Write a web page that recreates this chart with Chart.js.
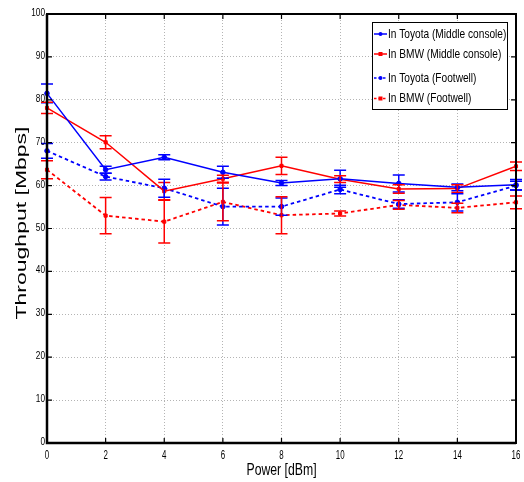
<!DOCTYPE html>
<html>
<head>
<meta charset="utf-8">
<title>Throughput vs power</title>
<script src="https://cdn.jsdelivr.net/npm/chart.js@4.4.1/dist/chart.umd.min.js"></script>
<style>
    html, body { margin: 0; padding: 0; background: #fff; }
    #wrap { width: 524px; height: 482px; }
</style>
</head>
<body>
<div id="wrap"><canvas id="chart" width="524" height="482"></canvas></div>
<script>
// values
var power = [0, 2, 4, 6, 8, 10, 12, 14, 16];
var xTicks = [0, 2, 4, 6, 8, 10, 12, 14, 16];
var yTicks = [0, 10, 20, 30, 40, 50, 60, 70, 80, 90, 100];

var toyotaMiddle = [81.5, 63.7, 66.6, 63.1, 60.6, 61.6, 60.5, 59.6, 60.2];
var toyotaMiddleErr = [2.2, 0.8, 0.6, 1.4, 0.6, 2.0, 2.0, 0.8, 1.2];
var bmwMiddle = [78.1, 70.1, 58.7, 61.6, 64.6, 61.5, 59.2, 59.3, 64.5];
var bmwMiddleErr = [1.3, 1.5, 2.0, 0.8, 2.0, 0.8, 1.0, 0.9, 1.0];
var toyotaFoot = [68.1, 62.1, 59.4, 55.1, 55.1, 59.1, 55.7, 56.1, 60.0];
var toyotaFootErr = [1.7, 0.8, 2.1, 4.3, 2.0, 1.0, 1.0, 2.0, 1.0];
var bmwFoot = [63.7, 53.0, 51.6, 56.2, 53.1, 53.5, 55.5, 54.8, 56.1];
var bmwFootErr = [2.1, 4.2, 5.0, 4.4, 4.3, 0.6, 1.0, 1.1, 1.5];

var seriesLabels = ["In Toyota (Middle console)", "In BMW (Middle console)", "In Toyota (Footwell)", "In BMW (Footwell)"];

var BLUE = "#0000ff";
var RED = "#ff0000";
var FONT = '"Liberation Sans", Arial, sans-serif';

var toPoints = function (ys) {
    return power.map(function (x, i) { return { x: x, y: ys[i] }; });
};

var makeSet = function (label, ys, errs, color, dashed, style) {
    return {
        label: label,
        data: toPoints(ys),
        errors: errs,
        borderColor: color,
        backgroundColor: color,
        borderWidth: dashed ? 1.8 : 1.5,
        borderDash: dashed ? [3.5, 3] : [],
        pointStyle: style,
        pointRadius: style === "rect" ? 2.2 : 2.3,
        pointBorderWidth: 1,
        pointBackgroundColor: color,
        pointBorderColor: color,
        tension: 0,
        clip: false
    };
};

// draw a string squeezed horizontally, like the scaled figure
var drawText = function (ctx, s, x, y, size, sx, align, base) {
    ctx.save();
    ctx.font = size + "px " + FONT;
    ctx.translate(x, y);
    ctx.scale(sx, 1);
    ctx.textAlign = align;
    ctx.textBaseline = base;
    ctx.fillStyle = "#000";
    ctx.fillText(s, 0, 0);
    ctx.restore();
};

var errorBars = {
    id: "errorBars",
    afterDatasetsDraw: function (chart) {
        var ctx = chart.ctx;
        var xs = chart.scales.x, ys = chart.scales.y;
        chart.data.datasets.forEach(function (ds) {
            ctx.save();
            ctx.strokeStyle = ds.borderColor;
            ctx.lineWidth = 1.5;
            ds.data.forEach(function (p, i) {
                var px = xs.getPixelForValue(p.x);
                var top = ys.getPixelForValue(p.y + ds.errors[i]);
                var bot = ys.getPixelForValue(p.y - ds.errors[i]);
                ctx.beginPath();
                ctx.moveTo(px, top); ctx.lineTo(px, bot);
                ctx.moveTo(px - 6, top); ctx.lineTo(px + 6, top);
                ctx.moveTo(px - 6, bot); ctx.lineTo(px + 6, bot);
                ctx.stroke();
            });
            ctx.restore();
        });
    }
};

var frame = {
    id: "frame",
    afterDraw: function (chart) {
        var ctx = chart.ctx;
        var a = chart.chartArea;
        var xs = chart.scales.x, ys = chart.scales.y;

        // axes box
        ctx.save();
        ctx.strokeStyle = "#000";
        ctx.lineWidth = 2;
        ctx.strokeRect(a.left, a.top, a.right - a.left, a.bottom - a.top);
        ctx.lineWidth = 2.5;
        ctx.beginPath();
        ctx.moveTo(a.left, a.top); ctx.lineTo(a.left, a.bottom); ctx.lineTo(a.right, a.bottom);
        ctx.stroke();

        // inward ticks
        ctx.lineWidth = 1.2;
        ctx.beginPath();
        yTicks.forEach(function (v) {
            var py = ys.getPixelForValue(v);
            ctx.moveTo(a.left, py); ctx.lineTo(a.left + 5, py);
            ctx.moveTo(a.right, py); ctx.lineTo(a.right - 5, py);
        });
        xTicks.forEach(function (v) {
            var px = xs.getPixelForValue(v);
            ctx.moveTo(px, a.bottom); ctx.lineTo(px, a.bottom - 5);
            ctx.moveTo(px, a.top); ctx.lineTo(px, a.top + 5);
        });
        ctx.stroke();
        ctx.restore();

        // tick labels
        yTicks.forEach(function (v) {
            drawText(ctx, String(v), a.left - 2, ys.getPixelForValue(v) - 1, 11, 0.75, "right", "middle");
        });
        xTicks.forEach(function (v) {
            drawText(ctx, String(v), xs.getPixelForValue(v), a.bottom + 7, 12, 0.66, "center", "top");
        });

        // axis titles
        drawText(ctx, "Power [dBm]", (a.left + a.right) / 2, 470, 17, 0.72, "center", "middle");

        ctx.save();
        ctx.font = "14px " + FONT;
        var w = ctx.measureText("Throughput [Mbps]").width;
        ctx.translate(22, 223);
        ctx.rotate(-Math.PI / 2);
        ctx.scale(193 / w, 1);
        ctx.textAlign = "center";
        ctx.textBaseline = "middle";
        ctx.fillStyle = "#000";
        ctx.fillText("Throughput [Mbps]", 0, 0);
        ctx.restore();

        // legend box
        var lx = 372, ly = 22, lw = 135, lh = 87;
        ctx.save();
        ctx.fillStyle = "#fff";
        ctx.fillRect(lx, ly, lw, lh);
        ctx.strokeStyle = "#000";
        ctx.lineWidth = 1;
        ctx.strokeRect(lx + 0.5, ly + 0.5, lw, lh);
        var rows = [34, 54, 78, 98.5];
        chart.data.datasets.forEach(function (ds, i) {
            var y = rows[i];
            ctx.strokeStyle = ds.borderColor;
            ctx.fillStyle = ds.borderColor;
            ctx.lineWidth = 1.5;
            ctx.setLineDash(ds.borderDash.length ? [2.5, 2] : []);
            ctx.beginPath();
            ctx.moveTo(374, y); ctx.lineTo(387, y);
            ctx.stroke();
            ctx.setLineDash([]);
            if (ds.pointStyle === "rect") {
                ctx.fillRect(378.5, y - 2, 4, 4);
            } else {
                ctx.beginPath();
                ctx.arc(380.5, y, 2, 0, Math.PI * 2);
                ctx.fill();
            }
            drawText(ctx, ds.label, 388, y, 13, 0.78, "left", "middle");
        });
        ctx.restore();
    }
};

var chart = new Chart(document.getElementById("chart"), {
    type: "line",
    data: {
        datasets: [
            makeSet(seriesLabels[0], toyotaMiddle, toyotaMiddleErr, BLUE, false, "circle"),
            makeSet(seriesLabels[1], bmwMiddle, bmwMiddleErr, RED, false, "rect"),
            makeSet(seriesLabels[2], toyotaFoot, toyotaFootErr, BLUE, true, "circle"),
            makeSet(seriesLabels[3], bmwFoot, bmwFootErr, RED, true, "rect")
        ]
    },
    options: {
        responsive: false,
        animation: false,
        layout: { padding: { top: 14, right: 8, left: 0, bottom: 0 } },
        plugins: {
            legend: { display: false },
            tooltip: { enabled: false }
        },
        scales: {
            x: {
                type: "linear",
                min: 0,
                max: 16,
                ticks: { display: false, stepSize: 2 },
                grid: { color: "#b4b4b4", lineWidth: 1, drawTicks: false },
                border: { display: false, dash: [1, 2] },
                afterFit: function (scale) { scale.height = 39; }
            },
            y: {
                min: 0,
                max: 100,
                ticks: { display: false, stepSize: 10 },
                grid: { color: "#b4b4b4", lineWidth: 1, drawTicks: false },
                border: { display: false, dash: [1, 2] },
                afterFit: function (scale) { scale.width = 47; }
            }
        }
    },
    plugins: [errorBars, frame]
});
</script>
</body>
</html>
